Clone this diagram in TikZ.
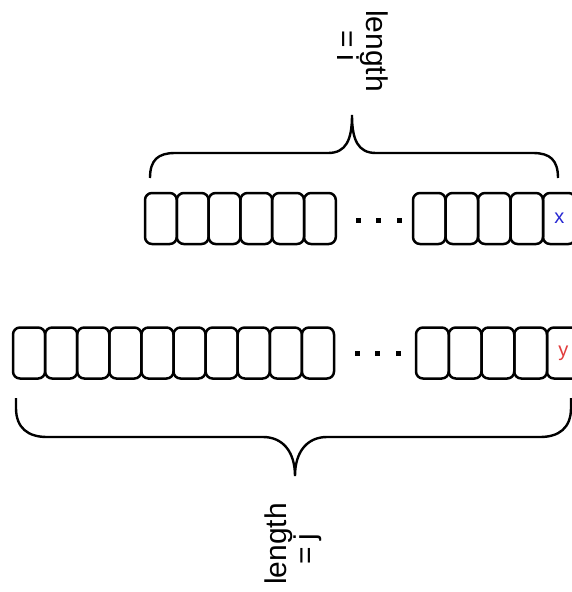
\documentclass[tikz,border=0pt]{standalone}
\usepackage{fontspec}
\setmainfont{Liberation Sans}
\definecolor{xblue}{RGB}{40,40,210}
\definecolor{yred}{RGB}{225,60,60}
\newcommand{\tightsp}{\spaceskip=0.2em\relax}
\begin{document}
\begin{tikzpicture}[x=1pt,y=-1pt,
  cell/.style={draw, line width=2.5pt, rounded corners=7pt, minimum height=51pt,
    inner sep=0pt, outer sep=0pt, anchor=north west, font=\fontsize{20}{24}\selectfont},
  dotbox/.style={fill, minimum size=5pt, inner sep=0pt},
  bracepath/.style={line width=2.4pt},
  lbl/.style={align=center, inner sep=0pt, font=\fontsize{30}{29}\selectfont}]
\useasboundingbox (0,0) rectangle (572,592);
\clip (0,0) rectangle (572,592);
% top row
\foreach \i in {0,...,5} \node[cell, minimum width=31.8pt] (t\i) at ({145+31.8*\i},193) {};
\foreach \i in {0,...,3} \node[cell, minimum width=32.5pt] (tr\i) at ({413+32.5*\i},193) {};
\node[cell, minimum width=32.5pt, text=xblue] (tx) at (543,193) {x};
\node[dotbox] (td1) at (358,220) {};
\node[dotbox] (td2) at (378,220) {};
\node[dotbox] (td3) at (399,220) {};
% bottom row
\foreach \i in {0,...,9} \node[cell, minimum width=32.1pt] (b\i) at ({13+32.1*\i},327.5) {};
\foreach \i in {0,...,3} \node[cell, minimum width=32.75pt] (br\i) at ({416+32.75*\i},327.5) {};
\node[cell, minimum width=32.75pt, text=yred] (by) at (547,327.5) {y};
\node[dotbox] (bd1) at (357,353) {};
\node[dotbox] (bd2) at (377,353) {};
\node[dotbox] (bd3) at (398,353) {};
% braces
\draw[bracepath] (150,178) .. controls (150,160) and (158,153) .. (175,153) -- (328,153)
  .. controls (346,153) and (352,140) .. (352,115)
  .. controls (352,140) and (358,153) .. (376,153) -- (533,153)
  .. controls (550,153) and (558,160) .. (558,178);
\draw[bracepath] (16,398) -- (16,408) .. controls (16,428) and (28,437) .. (47,437) -- (263,437)
  .. controls (283,437) and (295,452) .. (295,476)
  .. controls (295,452) and (307,437) .. (327,437) -- (540,437)
  .. controls (559,437) and (571,428) .. (571,408) -- (571,398);
% labels
\node[lbl, rotate=-90, anchor=north] (li) at (388,51) {length\\{\tightsp = i}\kern10pt};
\node[lbl, rotate=90, anchor=north] (lj) at (265,544) {length\\{\tightsp = j}\kern10pt};
\end{tikzpicture}
\end{document}
